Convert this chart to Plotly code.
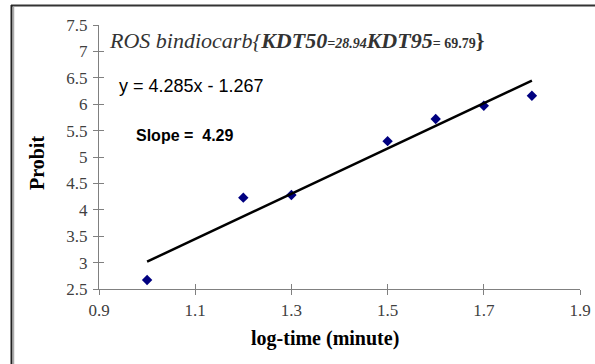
import plotly.graph_objects as go

# Data
log_time = [1.0, 1.2, 1.3, 1.5, 1.6, 1.7, 1.8]
probit = [2.67, 4.23, 4.28, 5.30, 5.72, 5.97, 6.16]
slope = 4.285
intercept = -1.267
fit_x = [1.0, 1.8]
fit_y = [slope * v + intercept for v in fit_x]

x_ticks = [0.9, 1.1, 1.3, 1.5, 1.7, 1.9]
y_ticks = [2.5, 3, 3.5, 4, 4.5, 5, 5.5, 6, 6.5, 7, 7.5]

W, H = 595, 364
L, R, T, B = 99, 15, 25, 75
pw, ph = W - L - R, H - T - B

def px(xp):
    return (xp - L) / pw

def py(yp):
    return (H - B - yp) / ph

serif = "Liberation Serif, Times New Roman, serif"
sans = "Liberation Sans, Arial, sans-serif"

fig = go.Figure()
fig.add_trace(go.Scatter(x=log_time, y=probit, mode="markers",
                         marker=dict(symbol="diamond", size=8, color="#000080"),
                         showlegend=False))
fig.add_trace(go.Scatter(x=fit_x, y=fit_y, mode="lines", xaxis="x2", yaxis="y2",
                         line=dict(color="black", width=2.5), showlegend=False))

axis_common = dict(showgrid=False, zeroline=False)
tickfont = dict(family=serif, size=17, color="#404040")
fig.update_layout(
    width=W, height=H,
    margin=dict(l=L, r=R, t=T, b=B, autoexpand=False),
    paper_bgcolor="white", plot_bgcolor="white",
    xaxis=dict(range=[0.9, 1.9], tickvals=x_ticks, ticktext=[f"{v:g}" for v in x_ticks],
               showline=True, linecolor="#808080", linewidth=1.3,
               ticks="outside", ticklen=5, tickcolor="#808080", tickwidth=1.3,
               tickfont=tickfont, **axis_common),
    yaxis=dict(range=[2.5, 7.5], tickvals=y_ticks, ticktext=[f"{v:g}" for v in y_ticks],
               showline=True, linecolor="#808080", linewidth=1.3,
               ticks="outside", ticklen=5, tickcolor="#808080", tickwidth=1.3,
               tickfont=tickfont, ticklabelstandoff=2, **axis_common),
    xaxis2=dict(range=[0.9, 1.9], tickvals=x_ticks, overlaying="x", anchor="y2",
                ticks="inside", ticklen=5, tickcolor="#808080", tickwidth=1.3,
                showticklabels=False, showline=False, **axis_common),
    yaxis2=dict(range=[2.5, 7.5], tickvals=y_ticks, overlaying="y", anchor="x2",
                ticks="inside", ticklen=5, tickcolor="#808080", tickwidth=1.3,
                showticklabels=False, showline=False, **axis_common),
)

title_html = ("<i>ROS bindiocarb{</i><b><i>KDT50</i></b>"
              "<span style='font-size:14px'><b><i>=28.94</i></b></span>"
              "<b><i>KDT95</i></b>"
              "<span style='font-size:14px'><b>= 69.79</b></span><b>}</b>")

annots = [
    dict(text=title_html, x=px(107), y=py(41), xanchor="left", yanchor="middle",
         font=dict(family=serif, size=22, color="#333333")),
    dict(text="y = 4.285x - 1.267", x=px(117), y=py(86), xanchor="left", yanchor="middle",
         font=dict(family=sans, size=18, color="black")),
    dict(text="<b>Slope =  4.29</b>", x=px(134), y=py(135), xanchor="left", yanchor="middle",
         font=dict(family=sans, size=16, color="black")),
    dict(text="<b>log-time (minute)</b>", x=px(325), y=py(338), xanchor="center", yanchor="middle",
         font=dict(family=serif, size=20, color="black")),
    dict(text="<b>Probit</b>", x=px(37), y=py(163), xanchor="center", yanchor="middle",
         textangle=-90, font=dict(family=serif, size=20, color="black")),
]
for a in annots:
    fig.add_annotation(xref="paper", yref="paper", showarrow=False, **a)

# chart frame (top and left edges visible in the crop)
fig.add_shape(type="line", xref="paper", yref="paper",
              x0=px(11), x1=px(595), y0=py(5.5), y1=py(5.5),
              line=dict(color="#333333", width=2))
fig.add_shape(type="line", xref="paper", yref="paper",
              x0=px(11.5), x1=px(11.5), y0=py(5), y1=py(364),
              line=dict(color="#222222", width=2))
fig.add_shape(type="line", xref="paper", yref="paper",
              x0=px(13.5), x1=px(13.5), y0=py(7), y1=py(364),
              line=dict(color="#aaaaaa", width=1.5))

fig.write_html("out.html")
